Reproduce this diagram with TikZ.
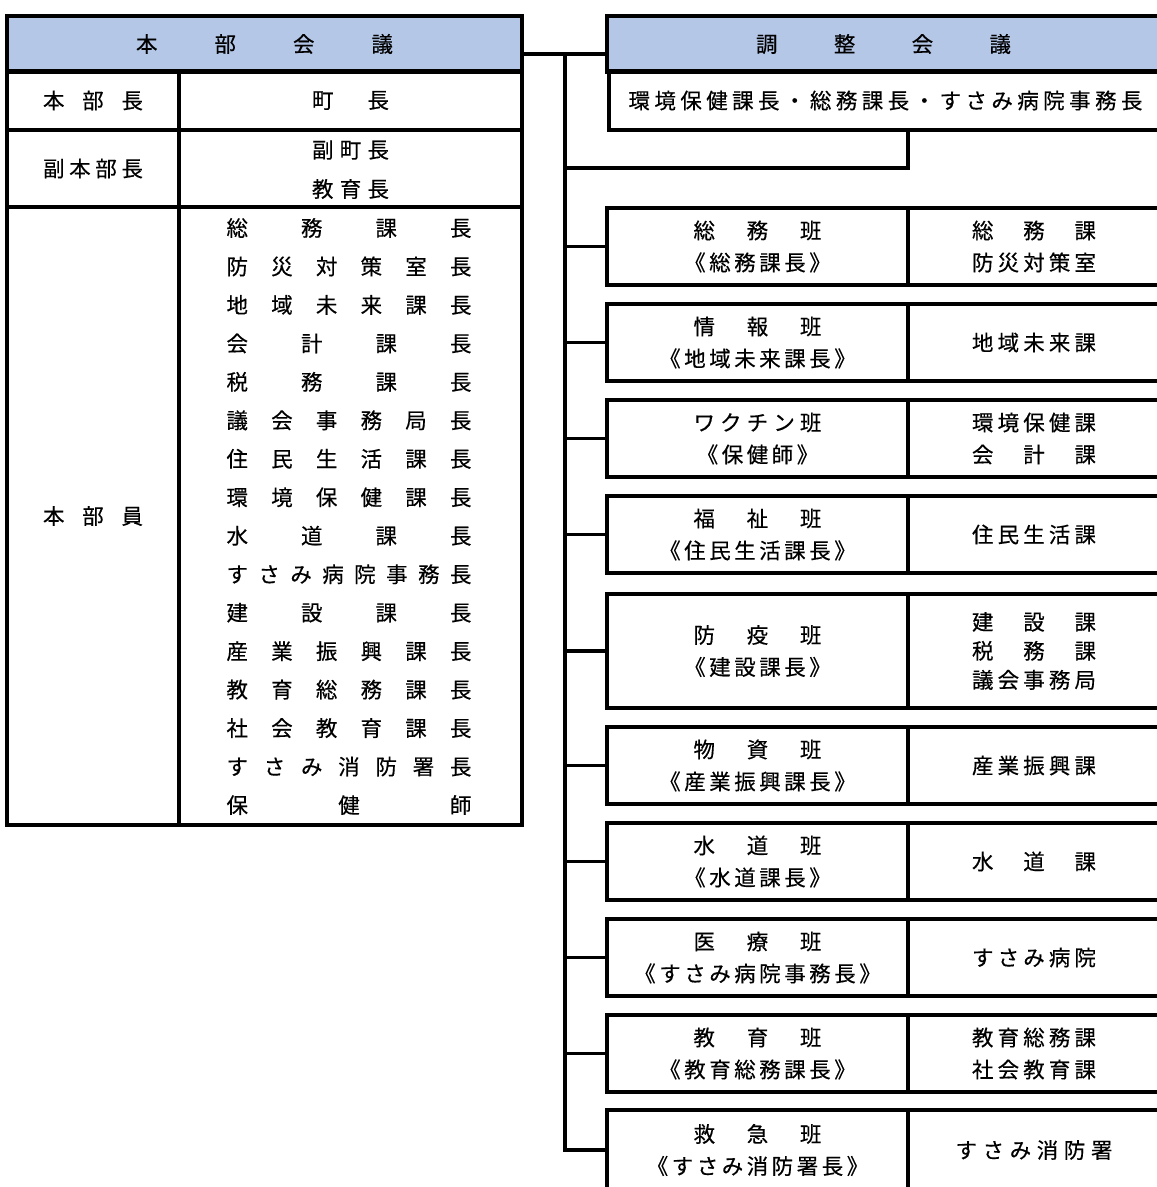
\documentclass[tikz,border=0pt]{standalone}
\usepackage{fontspec}
\newfontfamily\jpfont[FakeBold=0.4]{Noto Sans CJK JP}
\definecolor{headblue}{RGB}{180,199,231}
% spread the characters of #2 over the width #1
\def\distloop#1#2{#1\ifx\relax#2\else\hfill\expandafter\distloop\expandafter#2\fi}
\newcommand\spreadtext[2]{\makebox[#1][s]{\expandafter\distloop#2\relax}}
% set each character of #2 in a box of width #1
\def\pitchloop#1{\ifx\relax#1\else\makebox[\pitchw]{#1}\expandafter\pitchloop\fi}
\newcommand\pitchtext[2]{\def\pitchw{#1}\expandafter\pitchloop#2\relax}
\tikzset{
  frame/.style={draw, line width=3.3pt, inner sep=0pt, outer sep=0pt},
  headcell/.style={frame, fill=headblue, minimum height=56pt},
  teamcell/.style={frame, minimum width=301pt, minimum height=77pt, align=center},
  unitcell/.style={frame, minimum width=252pt, minimum height=77pt, align=center},
  link/.style={line width=3.3pt},
  txt/.style={inner sep=0pt}
}

\begin{document}
\begin{tikzpicture}[x=1pt, y=-1pt, every node/.style={font=\jpfont\fontsize{21.5pt}{32pt}\selectfont}]
  \useasboundingbox (0,0) rectangle (1157,1187);
  \clip (0,0) rectangle (1157,1187);

  % headquarters meeting
  \node[headcell, minimum width=515pt] (hq) at (264.5,44) {\spreadtext{257pt}{本部会議}};
  \node[frame, minimum width=172pt, minimum height=59pt] (chiefL) at (93,100.5) {\spreadtext{100pt}{本部長}};
  \node[frame, minimum width=343pt, minimum height=59pt] (chiefR) at (350.5,100.5) {\spreadtext{77pt}{町長}};
  \node[frame, minimum width=172pt, minimum height=77pt] (deputyL) at (93,168.5) {\spreadtext{100pt}{副本部長}};
  \node[frame, minimum width=343pt, minimum height=77pt] (deputyR) at (350.5,168.5) {};
  \node[txt] (deputy1) at (350.5,150) {\spreadtext{77pt}{副町長}};
  \node[txt] (deputy2) at (350.5,189) {\spreadtext{77pt}{教育長}};
  \node[frame, minimum width=172pt, minimum height=618pt] (memberL) at (93,516) {\spreadtext{100pt}{本部員}};
  \node[frame, minimum width=343pt, minimum height=618pt] (memberR) at (350.5,516) {};
  \foreach \name [count=\i from 0] in {総務課長,防災対策室長,地域未来課長,会計課長,税務課長,議会事務局長,住民生活課長,環境保健課長,水道課長,すさみ病院事務長,建設課長,産業振興課長,教育総務課長,社会教育課長,すさみ消防署長,保健師}
    \node[txt] (member\i) at (349,228+38.47*\i) {\spreadtext{245pt}{\name}};

  % coordination meeting
  \node[headcell, minimum width=553pt] (coordHead) at (883.5,44) {\spreadtext{255pt}{調整会議}};
  \node[frame, minimum width=553pt, minimum height=59pt] (coordBody) at (885.5,100.5) {\spreadtext{514pt}{環境保健課長・総務課長・すさみ病院事務長}};

  % teams
  \node[teamcell] (team1) at (757.5,246.5) {\spreadtext{128pt}{総務班}\\\pitchtext{25pt}{《総務課長》}};
  \node[unitcell] (unit1) at (1034,246.5) {\spreadtext{124pt}{総務課}\\\spreadtext{124pt}{防災対策室}};
  \node[teamcell] (team2) at (757.5,342.5) {\spreadtext{128pt}{情報班}\\\pitchtext{25pt}{《地域未来課長》}};
  \node[unitcell] (unit2) at (1034,342.5) {\spreadtext{124pt}{地域未来課}};
  \node[teamcell] (team3) at (757.5,438.5) {\spreadtext{128pt}{ワクチン班}\\\pitchtext{25pt}{《保健師》}};
  \node[unitcell] (unit3) at (1034,438.5) {\spreadtext{124pt}{環境保健課}\\\spreadtext{124pt}{会計課}};
  \node[teamcell] (team4) at (757.5,534.5) {\spreadtext{128pt}{福祉班}\\\pitchtext{25pt}{《住民生活課長》}};
  \node[unitcell] (unit4) at (1034,534.5) {\spreadtext{124pt}{住民生活課}};
  \node[teamcell, minimum height=114pt] (team5) at (757.5,651) {\spreadtext{128pt}{防疫班}\\\pitchtext{25pt}{《建設課長》}};
  \node[unitcell, minimum height=114pt] (unit5) at (1034,651) {\spreadtext{124pt}{建設課}\\[-3pt]\spreadtext{124pt}{税務課}\\[-3pt]\spreadtext{124pt}{議会事務局}};
  \node[teamcell] (team6) at (757.5,765.5) {\spreadtext{128pt}{物資班}\\\pitchtext{25pt}{《産業振興課長》}};
  \node[unitcell] (unit6) at (1034,765.5) {\spreadtext{124pt}{産業振興課}};
  \node[teamcell] (team7) at (757.5,861.5) {\spreadtext{128pt}{水道班}\\\pitchtext{25pt}{《水道課長》}};
  \node[unitcell] (unit7) at (1034,861.5) {\spreadtext{124pt}{水道課}};
  \node[teamcell] (team8) at (757.5,957.5) {\spreadtext{128pt}{医療班}\\\pitchtext{25pt}{《すさみ病院事務長》}};
  \node[unitcell] (unit8) at (1034,957.5) {\spreadtext{124pt}{すさみ病院}};
  \node[teamcell] (team9) at (757.5,1053.5) {\spreadtext{128pt}{教育班}\\\pitchtext{25pt}{《教育総務課長》}};
  \node[unitcell] (unit9) at (1034,1053.5) {\spreadtext{124pt}{教育総務課}\\\spreadtext{124pt}{社会教育課}};
  \node[teamcell, minimum height=80pt] (team10) at (757.5,1150) {\spreadtext{128pt}{救急班}\\\pitchtext{25pt}{《すさみ消防署長》}};
  \node[unitcell, minimum height=80pt] (unit10) at (1034,1150) {\spreadtext{157pt}{すさみ消防署}};

  % connectors
  \coordinate (top) at (565,54);
  \coordinate (bend) at (565,168);
  \draw[link] (hq.east |- top) -- (coordHead.west |- top);
  \draw[link] (top) -- (top |- team10.west) -- (team10.west);
  \foreach \i in {1,...,9}
    \draw[link] (top |- team\i.west) -- (team\i.west);
  \draw[link] (coordBody.south -| team1.east) |- (bend);
\end{tikzpicture}
\end{document}
